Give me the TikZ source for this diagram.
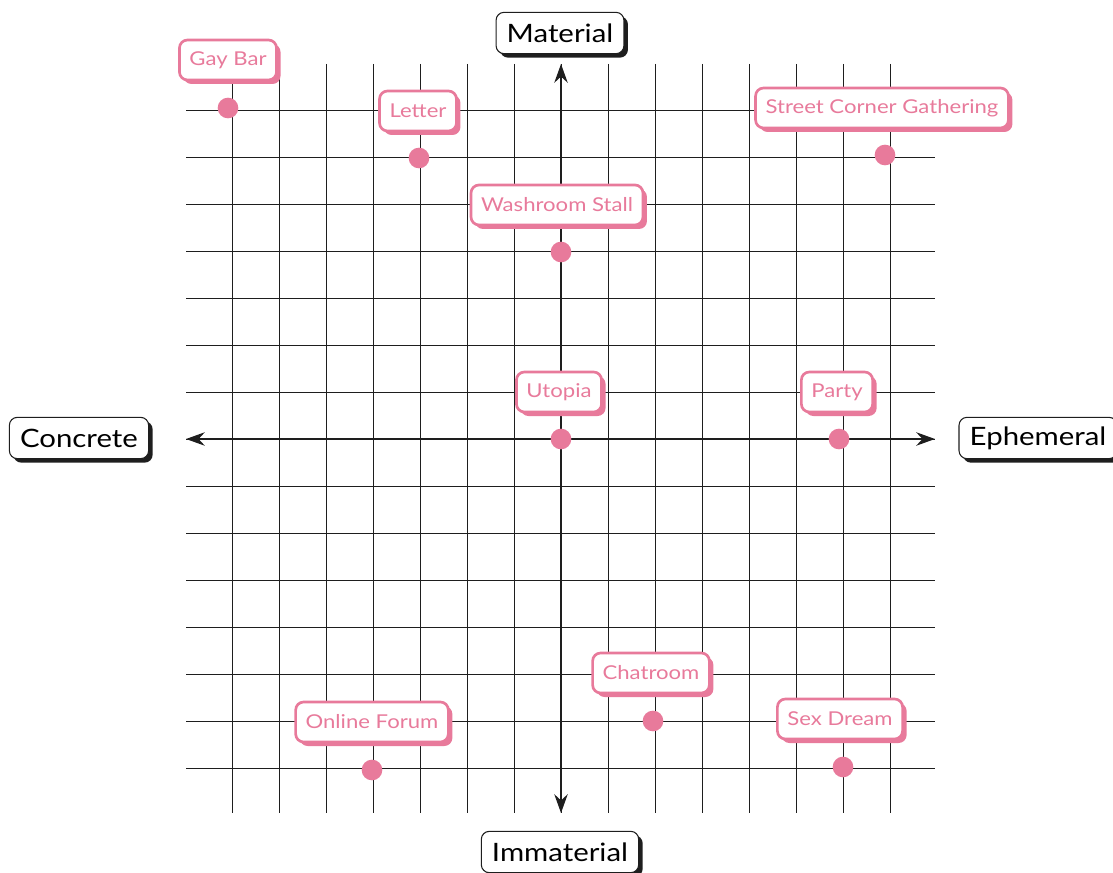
\documentclass[tikz,border=0pt]{standalone}
\usepackage{fontspec}
\setmainfont{Lato}[FakeStretch=1.16]
\usetikzlibrary{arrows.meta,shadows}
\definecolor{pinkc}{RGB}{232,122,155}
\definecolor{ink}{RGB}{30,30,30}
\tikzset{
  gridline/.style={ink, line width=0.7pt},
  axis/.style={ink, line width=1.8pt, {Stealth[length=14pt,width=10pt]}-{Stealth[length=14pt,width=10pt]}},
  axlabel/.style={draw=ink, line width=0.8pt, fill=white, rounded corners=6pt, inner xsep=8pt, minimum height=31pt,
     font=\fontsize{19}{21}\selectfont, text=black,
     general shadow={fill=ink, shadow xshift=3pt, shadow yshift=-3pt}},
  place/.style={draw=pinkc, line width=2pt, fill=white, rounded corners=6pt, inner xsep=7.5pt, minimum height=30pt,
     font=\fontsize{14.3}{16}\selectfont, text=pinkc,
     general shadow={fill=pinkc, shadow xshift=3pt, shadow yshift=-3pt}},
  dot/.style={circle, fill=pinkc, inner sep=0pt, minimum size=15.5pt},
}
\begin{document}
\begin{tikzpicture}[x=0.75pt,y=-0.75pt]
\useasboundingbox (0,0) rectangle (1113,873);
\clip (0,0) rectangle (1113,873);
% grid
\foreach \k in {-7,...,7} {
  \draw[gridline] ({561+47*\k},64) -- ({561+47*\k},813);
  \draw[gridline] (186,{439+47*\k}) -- (935,{439+47*\k});
}
% axes
\coordinate (L) at (186,439);
\coordinate (R) at (935,439);
\coordinate (T) at (561,64);
\coordinate (B) at (561,813);
\draw[axis] (L) -- (R);
\draw[axis] (T) -- (B);
% axis labels
\node[axlabel] (mat) at (560,33) {Material};
\node[axlabel] (con) at (79,438) {Concrete};
\node[axlabel] (eph) at (1038,438) {Ephemeral};
\node[axlabel] (imm) at (560,852) {Immaterial};
% dots
\node[dot] (d1) at (228,108) {};
\node[dot] (d2) at (419,158) {};
\node[dot] (d3) at (885,155) {};
\node[dot] (d4) at (561,252) {};
\node[dot] (d5) at (561,439) {};
\node[dot] (d6) at (839,439) {};
\node[dot] (d7) at (653,721) {};
\node[dot] (d8) at (372,770) {};
\node[dot] (d9) at (843,767) {};
% place labels
\node[place] (l1) at (228,60) {Gay Bar};
\node[place] (l2) at (418,111) {Letter};
\node[place] (l3) at (882,108) {Street Corner Gathering};
\node[place] (l4) at (557,205) {Washroom Stall};
\node[place] (l5) at (559,392) {Utopia};
\node[place] (l6) at (837,392) {Party};
\node[place] (l7) at (651,673) {Chatroom};
\node[place] (l8) at (372,722) {Online Forum};
\node[place] (l9) at (840,719) {Sex Dream};
\end{tikzpicture}
\end{document}
